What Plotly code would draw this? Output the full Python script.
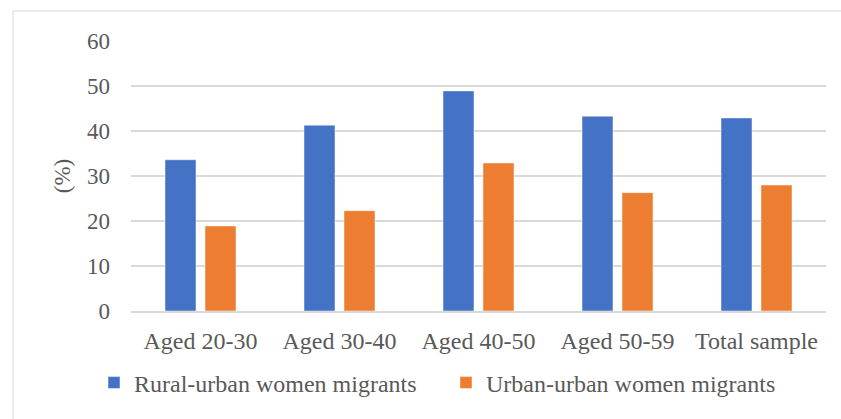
import plotly.graph_objects as go

categories = ["Aged 20-30", "Aged 30-40", "Aged 40-50", "Aged 50-59", "Total sample"]
rural_urban = [33.6, 41.3, 48.9, 43.3, 42.9]
urban_urban = [18.9, 22.3, 32.9, 26.3, 28.0]
series_names = ["Rural-urban women migrants", "Urban-urban women migrants"]
y_ticks = [0, 10, 20, 30, 40, 50, 60]

BLUE = "#4472C4"
ORANGE = "#ED7D31"
TXT = "#595959"
GRID = "#D9D9D9"
FONT = "Liberation Serif, Times New Roman, serif"

W, H = 841, 419
ML, MR, MT, MB = 131, 15, 41, 108
PW = W - ML - MR
PH = H - MT - MB

fig = go.Figure()
fig.add_trace(go.Bar(x=categories, y=rural_urban, name=series_names[0],
                     marker=dict(color=BLUE, line=dict(color="rgba(255,255,255,0.6)", width=0.8))))
fig.add_trace(go.Bar(x=categories, y=urban_urban, name=series_names[1],
                     marker=dict(color=ORANGE, line=dict(color="rgba(255,255,255,0.6)", width=0.8))))

fig.update_layout(
    width=W, height=H,
    margin=dict(l=ML, r=MR, t=MT, b=MB, pad=0),
    paper_bgcolor="white", plot_bgcolor="white",
    font=dict(family=FONT, size=24, color=TXT),
    barmode="group", bargap=0.4245, bargroupgap=0.225,
    showlegend=True,
    legend=dict(orientation="h", x=(94 - ML) / PW, xanchor="left",
                y=(MT + PH - 383) / PH, yanchor="middle",
                font=dict(family=FONT, size=24, color=TXT),
                entrywidth=307, entrywidthmode="pixels",
                itemwidth=30, bgcolor="rgba(0,0,0,0)"),
    xaxis=dict(showgrid=False, showline=True, linecolor=GRID, linewidth=1.5,
               ticks="", tickfont=dict(family=FONT, size=24, color=TXT),
               ticklabelstandoff=7),
    yaxis=dict(range=[0, 60], tickvals=y_ticks, showgrid=True, gridcolor=GRID, gridwidth=1.5,
               zeroline=False, showline=False, ticks="",
               tickfont=dict(family=FONT, size=23, color=TXT),
               ticklabelstandoff=20,
               title=dict(text="(%)", font=dict(family=FONT, size=23, color=TXT), standoff=9)),
    shapes=[dict(type="rect", xref="paper", yref="paper",
                 x0=(13 - ML) / PW, x1=(W + 20 - ML) / PW,
                 y0=(MT + PH - (H + 20)) / PH, y1=(MT + PH - 11) / PH,
                 line=dict(color=GRID, width=1), fillcolor="rgba(0,0,0,0)", layer="below")],
)

fig.write_html("out.html")
